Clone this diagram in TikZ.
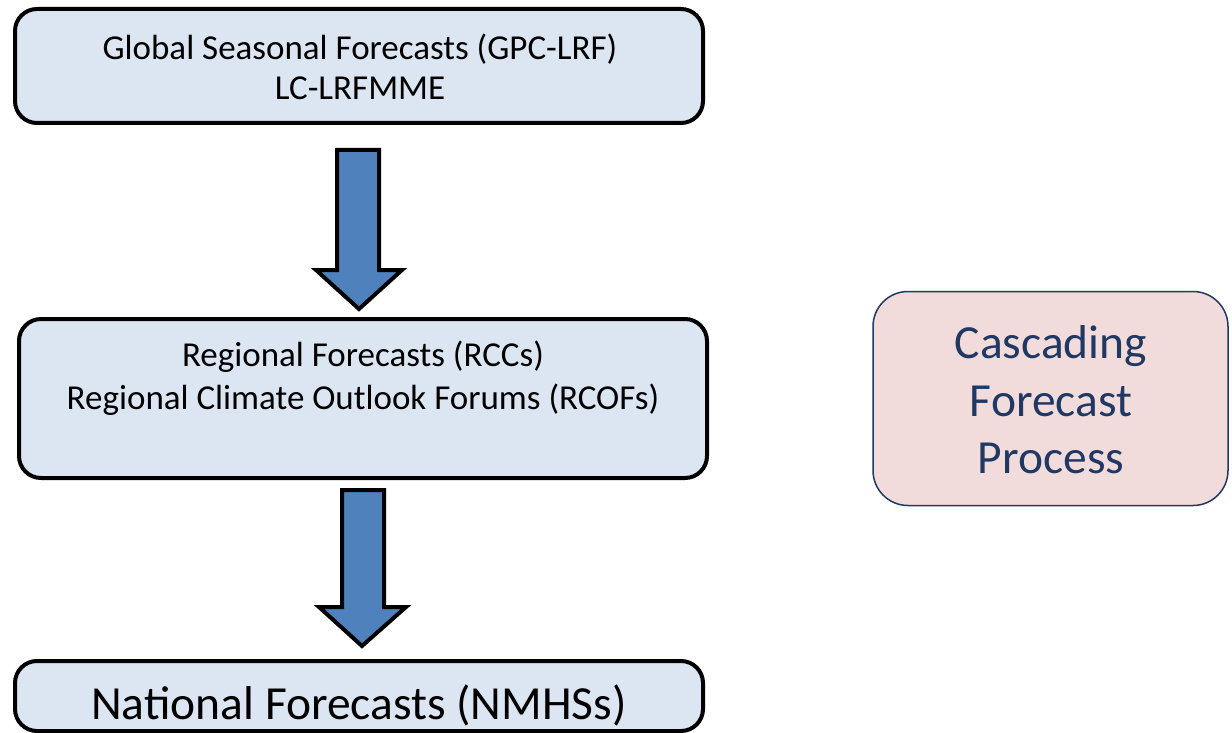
\documentclass[tikz,border=0pt]{standalone}
\usepackage{fontspec}
\setmainfont{Carlito}
\definecolor{boxfill}{HTML}{DCE6F2}
\definecolor{arrowfill}{HTML}{4F81BD}
\definecolor{pinkfill}{HTML}{F2DCDB}
\definecolor{navy}{HTML}{1F3864}
\begin{document}
\begin{tikzpicture}[x=1pt,y=-1pt,
  box/.style={draw=black, line width=4pt, fill=boxfill, rounded corners=22pt, inner sep=0pt},
  blockarrow/.style={draw=black, line width=4pt, fill=arrowfill, line join=miter},
  lbl/.style={align=center, inner sep=0pt},
  note/.style={draw=navy, line width=1.5pt, fill=pinkfill, rounded corners=35pt, inner sep=0pt}]
\useasboundingbox (0,0) rectangle (1232,733);
\fill[white] (0,0) rectangle (1232,733);
% boxes
\node[box, minimum width=688pt, minimum height=114pt] (top) at (359,66) {};
\node[lbl, font=\fontsize{35}{40}\selectfont] (toptext) at (360,67) {Global Seasonal Forecasts (GPC-LRF)\\LC-LRFMME};
\node[box, minimum width=688pt, minimum height=159pt] (mid) at (363,398.5) {};
\node[lbl, font=\fontsize{35}{43}\selectfont] (midtext) at (363,378) {Regional Forecasts (RCCs)\\Regional Climate Outlook Forums (RCOFs)};
\begin{scope}
\clip (0,0) rectangle (1232,733);
\node[box, minimum width=688pt, minimum height=70pt] (bot) at (359,696) {};
\end{scope}
\node[lbl, font=\fontsize{47.5}{57}\selectfont] (bottext) at (359,705) {National Forecasts (NMHSs)};
% arrows
\draw[blockarrow] (337,150) -- (379,150) -- (379,270) -- (402,270) -- (359,309) -- (316,270) -- (337,270) -- cycle;
\draw[blockarrow] (342,490) -- (384,490) -- (384,607) -- (406,607) -- (362,646) -- (319,607) -- (342,607) -- cycle;
% note
\node[note, minimum width=355pt, minimum height=214pt] (note) at (1050.5,398.5) {};
\node[lbl, text=navy, font=\fontsize{47.5}{57.5}\selectfont] (notetext) at (1051,400) {Cascading\\Forecast\\Process};
\end{tikzpicture}
\end{document}
